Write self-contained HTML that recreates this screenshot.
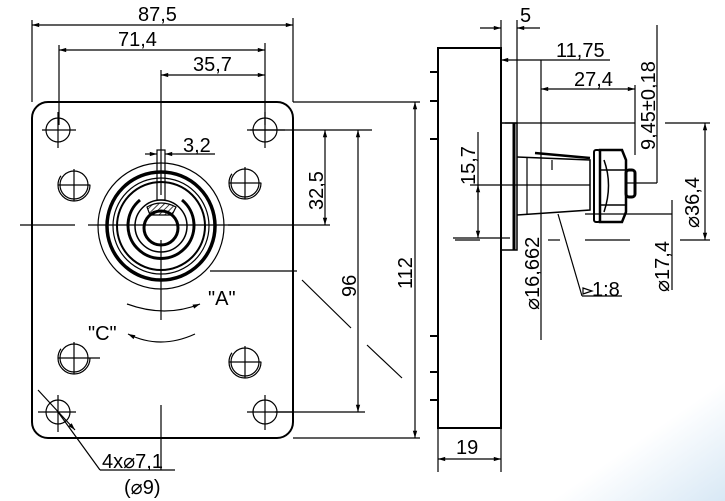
<!DOCTYPE html>
<html><head><meta charset="utf-8"><style>
html,body{margin:0;padding:0;background:#fff}
svg{display:block}
text{font-family:"Liberation Sans",sans-serif;fill:#000}
</style></head><body>
<svg width="725" height="501" viewBox="0 0 725 501" xmlns="http://www.w3.org/2000/svg">
<defs>
<linearGradient id="bg" x1="0" y1="0" x2="1" y2="1">
<stop offset="0.88" stop-color="#fff"/><stop offset="1" stop-color="#d8e8f5"/></linearGradient>
<marker id="a" viewBox="0 0 10 10" refX="10" refY="5" markerWidth="8" markerHeight="6" orient="auto-start-reverse"><path d="M0,2L10,5L0,8z" fill="#000"/></marker>
<pattern id="h" width="4" height="4" patternUnits="userSpaceOnUse" patternTransform="rotate(45)"><line x1="0" y1="0" x2="0" y2="4" stroke="#000" stroke-width="1.5"/></pattern>
</defs>
<rect width="725" height="501" fill="url(#bg)"/>
<g fill="none" stroke="#000" stroke-width="1.2">
<rect x="32" y="102" width="261" height="336" rx="16" stroke-width="2"/>
<line x1="20" y1="225" x2="75" y2="225"/>
<line x1="88" y1="225" x2="240" y2="225"/>
<line x1="210" y1="271" x2="297" y2="271"/>
<line x1="161" y1="70" x2="161" y2="195"/>
<line x1="161" y1="240" x2="161" y2="320"/>
<line x1="161" y1="405" x2="161" y2="470"/>
<g>
<circle cx="58" cy="130" r="12"/><line x1="42" y1="130" x2="76" y2="130"/><line x1="58" y1="112" x2="58" y2="148"/>
<circle cx="265" cy="130" r="12"/><line x1="247" y1="130" x2="285" y2="130"/><line x1="265" y1="112" x2="265" y2="148"/>
<circle cx="58" cy="412" r="12"/><line x1="38" y1="412" x2="76" y2="412"/><line x1="58" y1="395" x2="58" y2="432"/>
<circle cx="265" cy="412" r="12"/><line x1="247" y1="412" x2="293" y2="412"/><line x1="265" y1="395" x2="265" y2="430"/>
</g>
<g>
<circle cx="74" cy="185" r="14"/><circle cx="74" cy="185" r="16" stroke-dasharray="60 40"/><line x1="58" y1="185" x2="90" y2="185"/><line x1="74" y1="169" x2="74" y2="201"/>
<circle cx="245" cy="183" r="14"/><circle cx="245" cy="183" r="16" stroke-dasharray="60 40"/><line x1="229" y1="183" x2="261" y2="183"/><line x1="245" y1="167" x2="245" y2="199"/>
<circle cx="74" cy="358" r="14"/><circle cx="74" cy="358" r="16" stroke-dasharray="60 40"/><line x1="58" y1="358" x2="100" y2="358"/><line x1="74" y1="342" x2="74" y2="374"/>
<circle cx="245" cy="362" r="14"/><circle cx="245" cy="362" r="16" stroke-dasharray="60 40"/><line x1="229" y1="362" x2="261" y2="362"/><line x1="245" y1="346" x2="245" y2="378"/>
</g>
<circle cx="161" cy="226" r="63"/>
<circle cx="161" cy="226" r="54" stroke-width="3.5"/>
<circle cx="161" cy="226" r="48"/>
<circle cx="161" cy="226" r="44" stroke-width="2"/>
<path d="M140,200 A33,33 0 1 0 182,200" stroke-width="3"/>
<circle cx="161" cy="226" r="26" stroke-width="1.5"/>
<circle cx="161" cy="228" r="17" stroke-width="3"/>
<path d="M147,207 Q161,199 176,207 L172,215 L150,215z" fill="url(#h)" stroke-width="1.2"/>
<rect x="157" y="150" width="8" height="50" stroke-width="1.2"/>
<line x1="32" y1="20" x2="32" y2="102"/><line x1="293" y1="18" x2="293" y2="102"/>
<line x1="32" y1="25" x2="293" y2="25" marker-start="url(#a)" marker-end="url(#a)"/>
<line x1="59" y1="45" x2="59" y2="125"/><line x1="265" y1="43" x2="265" y2="125"/>
<line x1="59" y1="50" x2="265" y2="50" marker-start="url(#a)" marker-end="url(#a)"/>
<line x1="161" y1="75" x2="265" y2="75" marker-start="url(#a)" marker-end="url(#a)"/>
<line x1="145" y1="154" x2="157" y2="154" marker-end="url(#a)"/><line x1="176" y1="154" x2="165" y2="154" marker-end="url(#a)"/>
<line x1="176" y1="154" x2="215" y2="154"/>
<line x1="250" y1="130" x2="372" y2="130"/><line x1="228" y1="225" x2="330" y2="225"/>
<line x1="325" y1="130" x2="325" y2="225" marker-start="url(#a)" marker-end="url(#a)"/>
<line x1="358" y1="130" x2="358" y2="412" marker-start="url(#a)" marker-end="url(#a)"/>
<line x1="275" y1="412" x2="365" y2="412"/>
<line x1="293" y1="102" x2="420" y2="102"/><line x1="293" y1="438" x2="420" y2="438"/>
<line x1="415" y1="102" x2="415" y2="438" marker-start="url(#a)" marker-end="url(#a)"/>
<line x1="302" y1="280" x2="351" y2="328"/><line x1="367" y1="345" x2="402" y2="378"/>
<path d="M127,304 Q165,318 200,304" marker-end="url(#a)"/>
<path d="M195,334 Q160,350 128,334" marker-end="url(#a)"/>
<line x1="38" y1="390" x2="75" y2="430" marker-end="url(#a)"/>
<line x1="58" y1="412" x2="100" y2="470"/><line x1="100" y1="470" x2="175" y2="470"/>
<rect x="438" y="48" width="63" height="380" stroke-width="2"/>
<g stroke-width="2"><line x1="430" y1="72" x2="438" y2="72"/><line x1="430" y1="101" x2="438" y2="101"/><line x1="430" y1="139" x2="438" y2="139"/><line x1="430" y1="336" x2="438" y2="336"/><line x1="430" y1="372" x2="438" y2="372"/><line x1="430" y1="400" x2="438" y2="400"/></g>
<rect x="501" y="123" width="16" height="127" stroke-width="1.5"/>
<line x1="514" y1="123" x2="514" y2="250" stroke-width="3"/>
<path d="M517,157 L590,160 L590,210 L517,215" stroke-width="1.5"/>
<line x1="527" y1="157" x2="527" y2="215"/>
<path d="M535,153 L590,158" stroke-width="2.5"/>
<line x1="552" y1="160" x2="552" y2="170"/>
<rect x="594" y="150" width="6" height="72" rx="2" stroke-width="2"/>
<path d="M600,150 L622,150 L626,160 L626,212 L622,222 L600,222 z" stroke-width="2.5"/>
<path d="M600,170 L626,170 M600,205 L626,205 M604,160 Q613,185 604,212" stroke-width="1.5"/>
<rect x="626" y="170" width="9" height="27" rx="3" stroke-width="3"/>
<line x1="455" y1="240" x2="480" y2="240"/><line x1="548" y1="240" x2="560" y2="240"/><line x1="585" y1="240" x2="630" y2="240"/><line x1="680" y1="240" x2="710" y2="240"/>
<line x1="501" y1="20" x2="501" y2="60"/><line x1="517" y1="20" x2="517" y2="123"/>
<line x1="480" y1="28" x2="501" y2="28" marker-end="url(#a)"/><line x1="540" y1="28" x2="517" y2="28" marker-end="url(#a)"/>
<line x1="541" y1="60" x2="541" y2="340"/>
<line x1="501" y1="60" x2="610" y2="60" marker-start="url(#a)"/>
<line x1="541" y1="89" x2="635" y2="89" marker-start="url(#a)" marker-end="url(#a)"/>
<line x1="635" y1="85" x2="635" y2="155"/>
<line x1="505" y1="123" x2="635" y2="123"/><line x1="665" y1="123" x2="710" y2="123"/>
<line x1="657" y1="25" x2="657" y2="183"/><line x1="625" y1="183" x2="657" y2="183"/>
<line x1="705" y1="123" x2="705" y2="240" marker-start="url(#a)" marker-end="url(#a)"/>
<line x1="470" y1="185" x2="590" y2="185"/>
<line x1="478" y1="132" x2="478" y2="238" marker-end="url(#a)"/>
<line x1="478" y1="185" x2="478" y2="200" marker-start="url(#a)"/>
<line x1="453" y1="238" x2="510" y2="238"/>
<line x1="672" y1="200" x2="672" y2="290"/>
<line x1="585" y1="214" x2="672" y2="214"/>
<line x1="558" y1="214" x2="582" y2="296"/><line x1="582" y1="296" x2="622" y2="296"/>
<path d="M583,288 L592,291 L583,294z" fill="none"/>
<line x1="438" y1="428" x2="438" y2="472"/><line x1="501" y1="428" x2="501" y2="472"/>
<line x1="438" y1="459" x2="501" y2="459" marker-start="url(#a)" marker-end="url(#a)"/>
</g>
<g font-size="20">
<text x="138" y="21">87,5</text>
<text x="118" y="46">71,4</text>
<text x="193" y="71">35,7</text>
<text x="183" y="152">3,2</text>
<text transform="translate(323,210) rotate(-90)">32,5</text>
<text transform="translate(356,297) rotate(-90)">96</text>
<text transform="translate(412,289) rotate(-90)">112</text>
<text x="208" y="305">"A"</text>
<text x="88" y="340">"C"</text>
<text x="102" y="468">4x⌀7,1</text>
<text x="124" y="494">(⌀9)</text>
<text x="520" y="22">5</text>
<text x="556" y="57">11,75</text>
<text x="574" y="86">27,4</text>
<text transform="translate(655,150) rotate(-90)">9,45±0,18</text>
<text transform="translate(475,185) rotate(-90)">15,7</text>
<text transform="translate(539,310) rotate(-90)">⌀16,662</text>
<text transform="translate(669,292) rotate(-90)">⌀17,4</text>
<text transform="translate(699,228) rotate(-90)">⌀36,4</text>
<text x="592" y="296">1:8</text>
<text x="456" y="454">19</text>
</g>
</svg>
</body></html>
